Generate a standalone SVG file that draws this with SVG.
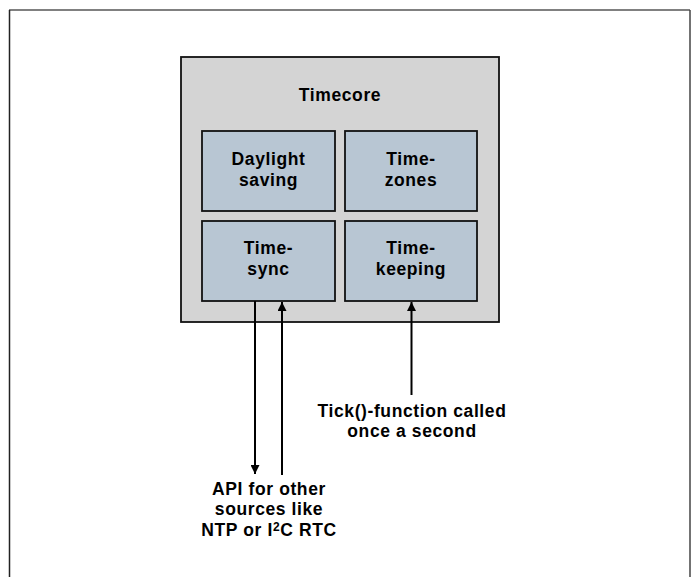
<svg xmlns="http://www.w3.org/2000/svg" width="698" height="577" viewBox="0 0 698 577">
<style>
  .t { font-family: "Liberation Sans", Arial, sans-serif; font-weight: bold; font-size: 17.5px; letter-spacing: 0.6px; fill: #000; text-anchor: middle; }
  .outer { fill: #d4d4d4; stroke: #111; stroke-width: 1.8; }
  .box { fill: #b8c6d3; stroke: #111; stroke-width: 1.8; }
  .conn { stroke: #000; stroke-width: 2; fill: none; }
</style>
<defs>
  <marker id="ah" viewBox="0 0 10 10" refX="10" refY="5" markerWidth="4.5" markerHeight="4.5" orient="auto" markerUnits="strokeWidth">
    <path d="M0,0 L10,5 L0,10 z" fill="#000"/>
  </marker>
</defs>
<rect width="698" height="577" fill="#fff"/>
<g id="frame">
  <line x1="9" y1="10" x2="690" y2="10" stroke="#808080" stroke-width="2"/>
  <line x1="9.5" y1="10" x2="9.5" y2="577" stroke="#222" stroke-width="1.5"/>
  <line x1="690" y1="10" x2="690" y2="577" stroke="#444" stroke-width="1.5"/>
</g>
<g id="timecore">
  <rect class="outer" x="181" y="57" width="318" height="265"/>
  <text class="t" x="340" y="101">Timecore</text>
</g>
<g id="daylight">
  <rect class="box" x="202" y="131" width="133" height="80"/>
  <text class="t" x="268.5" y="165">Daylight</text>
  <text class="t" x="268.5" y="186">saving</text>
</g>
<g id="timezones">
  <rect class="box" x="345" y="131" width="132" height="80"/>
  <text class="t" x="411" y="165">Time-</text>
  <text class="t" x="411" y="186">zones</text>
</g>
<g id="timesync">
  <rect class="box" x="202" y="221" width="133" height="80"/>
  <text class="t" x="268.5" y="254">Time-</text>
  <text class="t" x="268.5" y="275">sync</text>
</g>
<g id="timekeeping">
  <rect class="box" x="345" y="221" width="132" height="80"/>
  <text class="t" x="411" y="254">Time-</text>
  <text class="t" x="411" y="275">keeping</text>
</g>
<g id="connectors">
  <line class="conn" x1="255" y1="301" x2="255" y2="474" marker-end="url(#ah)"/>
  <line class="conn" x1="282" y1="475" x2="282" y2="302" marker-end="url(#ah)"/>
  <line class="conn" x1="411.5" y1="395" x2="411.5" y2="302" marker-end="url(#ah)"/>
</g>
<g id="tick-label">
  <text class="t" x="412" y="417">Tick()-function called</text>
  <text class="t" x="412" y="437">once a second</text>
</g>
<g id="api-label">
  <text class="t" x="269" y="495">API for other</text>
  <text class="t" x="269" y="515">sources like</text>
  <text class="t" x="269" y="536">NTP or I<tspan dy="-5" font-size="12">2</tspan><tspan dy="5">C RTC</tspan></text>
</g>
</svg>
